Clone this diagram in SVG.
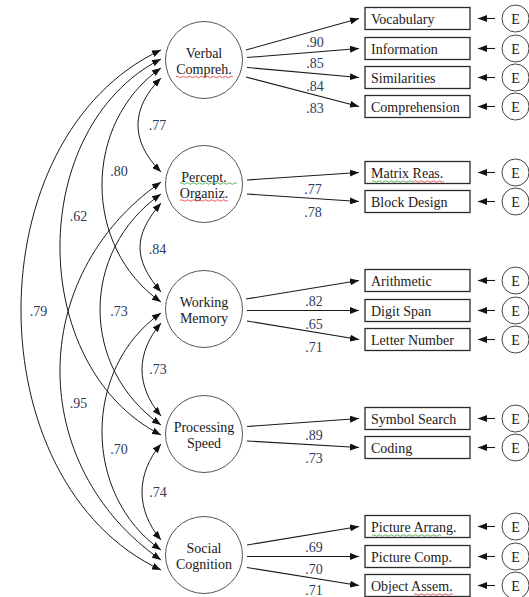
<svg xmlns="http://www.w3.org/2000/svg" width="529" height="597" viewBox="0 0 529 597">
<style>
.lat circle{fill:#fff;stroke:#555;stroke-width:1}
.lat text{font-family:"Liberation Serif","Times New Roman",serif;font-size:14px;text-anchor:middle;fill:#1a1a1a}
.box rect{fill:#fff;stroke:#2a2a2a;stroke-width:1.3}
.box text{font-family:"Liberation Serif","Times New Roman",serif;font-size:14px;fill:#221a1a}
.err circle{fill:#fff;stroke:#444;stroke-width:1}
.err text{font-family:"Liberation Serif","Times New Roman",serif;font-size:14px;text-anchor:middle;fill:#1a1a1a}
.lbl{font-family:"Liberation Serif","Times New Roman",serif;font-size:14px;text-anchor:middle;fill:#2e3a59}
.ld{stroke:#1a1a1a;stroke-width:1.1;fill:none;marker-end:url(#ah)}
.cor{stroke:#1a1a1a;stroke-width:1;fill:none;marker-start:url(#ah2);marker-end:url(#ah2)}
.red{stroke:#e03030;stroke-width:0.8;fill:none}
.grn{stroke:#30a030;stroke-width:0.8;fill:none}
</style>
<defs>
<marker id="ah" viewBox="0 0 9 7" refX="9" refY="3.5" markerWidth="9" markerHeight="7" markerUnits="userSpaceOnUse" orient="auto"><path d="M0,0 L9,3.5 L0,7 z" fill="#111"/></marker>
<marker id="ah2" viewBox="0 0 9 7" refX="9" refY="3.5" markerWidth="9" markerHeight="7" markerUnits="userSpaceOnUse" orient="auto-start-reverse"><path d="M0,0 L9,3.5 L0,7 z" fill="#111"/></marker>
</defs>

<g id="connectors">
<path class="ld" d="M246,50 L359,18.5"/>
<path class="ld" d="M247,57.5 L359,48.5"/>
<path class="ld" d="M247,67.5 L359,77.5"/>
<path class="ld" d="M246,77 L359,106.5"/>
<path class="ld" d="M247,180 L359,172.5"/>
<path class="ld" d="M247,194 L359,201.5"/>
<path class="ld" d="M246,299 L359,280.5"/>
<path class="ld" d="M247,310.5 L359,310.5"/>
<path class="ld" d="M247,321 L359,339.5"/>
<path class="ld" d="M247,426.5 L359,418.5"/>
<path class="ld" d="M247,441 L359,447.5"/>
<path class="ld" d="M247,545 L359,526.5"/>
<path class="ld" d="M247,556.5 L359,556.5"/>
<path class="ld" d="M247,567.5 L359,585.5"/>
<path class="ld" d="M495,18.5 L478,18.5"/>
<path class="ld" d="M495,48.5 L478,48.5"/>
<path class="ld" d="M495,77.5 L478,77.5"/>
<path class="ld" d="M495,106.5 L478,106.5"/>
<path class="ld" d="M495,172.5 L478,172.5"/>
<path class="ld" d="M495,201.5 L478,201.5"/>
<path class="ld" d="M495,280.5 L478,280.5"/>
<path class="ld" d="M495,310.5 L478,310.5"/>
<path class="ld" d="M495,339.5 L478,339.5"/>
<path class="ld" d="M495,418.5 L478,418.5"/>
<path class="ld" d="M495,447.5 L478,447.5"/>
<path class="ld" d="M495,526.5 L478,526.5"/>
<path class="ld" d="M495,556.5 L478,556.5"/>
<path class="ld" d="M495,585.5 L478,585.5"/>
<path class="cor" d="M161,78 C130.3,108.7 130.3,141.3 161,172"/>
<path class="cor" d="M161,203 C133,236 133,259 161,292"/>
<path class="cor" d="M161,323 C135.7,353 135.7,386 161,416"/>
<path class="cor" d="M161,444 C135.7,474 135.7,510 161,540"/>
<path class="cor" d="M161,68 C82.3,123 82.3,247 161,302"/>
<path class="cor" d="M161,194 C79.7,251 79.7,368 161,425"/>
<path class="cor" d="M161,313 C82.3,368 82.3,495 161,550"/>
<path class="cor" d="M161,59 C26.3,127.6 26.3,366.4 161,435"/>
<path class="cor" d="M161,182 C26.3,276 26.3,466 161,560"/>
<path class="cor" d="M161,50 C-25.7,137 -25.7,483 161,570"/>
</g>

<g id="loading-labels">
<text class="lbl" x="315" y="47">.90</text>
<text class="lbl" x="315" y="68">.85</text>
<text class="lbl" x="315" y="90.5">.84</text>
<text class="lbl" x="315" y="113">.83</text>
<text class="lbl" x="313" y="194">.77</text>
<text class="lbl" x="313" y="217">.78</text>
<text class="lbl" x="314" y="306">.82</text>
<text class="lbl" x="314" y="329">.65</text>
<text class="lbl" x="314" y="351.5">.71</text>
<text class="lbl" x="314" y="440">.89</text>
<text class="lbl" x="314" y="463">.73</text>
<text class="lbl" x="314" y="551.5">.69</text>
<text class="lbl" x="314" y="574">.70</text>
<text class="lbl" x="314" y="594.5">.71</text>
<text class="lbl" x="157.5" y="130">.77</text>
<text class="lbl" x="157.5" y="254">.84</text>
<text class="lbl" x="158" y="374">.73</text>
<text class="lbl" x="158" y="497">.74</text>
<text class="lbl" x="119" y="175.5">.80</text>
<text class="lbl" x="119" y="315.5">.73</text>
<text class="lbl" x="119" y="454">.70</text>
<text class="lbl" x="78.5" y="220.5">.62</text>
<text class="lbl" x="78.5" y="408">.95</text>
<text class="lbl" x="38.5" y="315.5">.79</text>
</g>

<g id="verbal" class="lat"><circle cx="204" cy="60" r="38.5"/><text x="204" y="57.5">Verbal</text><text x="204" y="74">Compreh.</text><path class="red" d="M176,77 q1.5,-1.5 3,0 t3,0 t3,0 t3,0 t3,0 t3,0 t3,0 t3,0 t3,0 t3,0 t3,0 t3,0 t3,0 t3,0 t3,0 t3,0 t3,0 t3,0 t3,0"/></g>
<g id="percept" class="lat"><circle cx="204" cy="184" r="38.5"/><text x="204" y="181.5">Percept.</text><text x="204" y="198">Organiz.</text><path class="grn" d="M180,183.5 q1.5,-1.5 3,0 t3,0 t3,0 t3,0 t3,0 t3,0 t3,0 t3,0 t3,0 t3,0 t3,0 t3,0 t3,0 t3,0 t3,0 t3,0 t3,0 t3,0 t3,0"/><path class="red" d="M180,200.5 q1.5,-1.5 3,0 t3,0 t3,0 t3,0 t3,0 t3,0 t3,0 t3,0 t3,0 t3,0 t3,0 t3,0 t3,0 t3,0 t3,0 t3,0"/></g>
<g id="working" class="lat"><circle cx="204" cy="309" r="38.5"/><text x="204" y="306.5">Working</text><text x="204" y="323">Memory</text></g>
<g id="processing" class="lat"><circle cx="204" cy="434" r="38.5"/><text x="204" y="431.5">Processing</text><text x="204" y="448">Speed</text></g>
<g id="social" class="lat"><circle cx="204" cy="555" r="38.5"/><text x="204" y="552.5">Social</text><text x="204" y="569">Cognition</text></g>

<g id="vocabulary" class="box"><rect x="365" y="7.5" width="105" height="22"/><text x="371" y="23.5">Vocabulary</text></g>
<g id="information" class="box"><rect x="365" y="37.5" width="105" height="22"/><text x="371" y="53.5">Information</text></g>
<g id="similarities" class="box"><rect x="365" y="66.5" width="105" height="22"/><text x="371" y="82.5">Similarities</text></g>
<g id="comprehension" class="box"><rect x="365" y="95.5" width="105" height="22"/><text x="371" y="111.5">Comprehension</text></g>
<g id="matrix" class="box"><rect x="365" y="161.5" width="105" height="22"/><text x="371" y="177.5">Matrix Reas.</text><path class="grn" d="M372,181.5 q1.5,-1.5 3,0 t3,0 t3,0 t3,0 t3,0 t3,0 t3,0 t3,0 t3,0 t3,0 t3,0 t3,0 t3,0 t3,0"/><path class="red" d="M414,181.5 q1.5,-1.5 3,0 t3,0 t3,0 t3,0 t3,0 t3,0 t3,0 t3,0 t3,0 t3,0"/></g>
<g id="block" class="box"><rect x="365" y="190.5" width="105" height="22"/><text x="371" y="206.5">Block Design</text></g>
<g id="arithmetic" class="box"><rect x="365" y="269.5" width="105" height="22"/><text x="371" y="285.5">Arithmetic</text></g>
<g id="digit" class="box"><rect x="365" y="299.5" width="105" height="22"/><text x="371" y="315.5">Digit Span</text></g>
<g id="letter" class="box"><rect x="365" y="328.5" width="105" height="22"/><text x="371" y="344.5">Letter Number</text></g>
<g id="symbol" class="box"><rect x="365" y="407.5" width="105" height="22"/><text x="371" y="423.5">Symbol Search</text></g>
<g id="coding" class="box"><rect x="365" y="436.5" width="105" height="22"/><text x="371" y="452.5">Coding</text></g>
<g id="parrang" class="box"><rect x="365" y="515.5" width="105" height="22"/><text x="371" y="531.5">Picture Arrang.</text><path class="grn" d="M372,535.5 q1.5,-1.5 3,0 t3,0 t3,0 t3,0 t3,0 t3,0 t3,0 t3,0 t3,0 t3,0 t3,0 t3,0 t3,0 t3,0 t3,0 t3,0 t3,0 t3,0 t3,0 t3,0 t3,0 t3,0 t3,0"/></g>
<g id="pcomp" class="box"><rect x="365" y="545.5" width="105" height="22"/><text x="371" y="561.5">Picture Comp.</text></g>
<g id="oassem" class="box"><rect x="365" y="574.5" width="105" height="22"/><text x="371" y="590.5">Object Assem.</text><path class="red" d="M414,594.5 q1.5,-1.5 3,0 t3,0 t3,0 t3,0 t3,0 t3,0 t3,0 t3,0 t3,0 t3,0 t3,0 t3,0 t3,0"/></g>

<g id="errors" class="err">
<g id="e1"><circle cx="515.5" cy="18.5" r="13.5"/><text x="515.5" y="23.5">E</text></g>
<g id="e2"><circle cx="515.5" cy="48.5" r="13.5"/><text x="515.5" y="53.5">E</text></g>
<g id="e3"><circle cx="515.5" cy="77.5" r="13.5"/><text x="515.5" y="82.5">E</text></g>
<g id="e4"><circle cx="515.5" cy="106.5" r="13.5"/><text x="515.5" y="111.5">E</text></g>
<g id="e5"><circle cx="515.5" cy="172.5" r="13.5"/><text x="515.5" y="177.5">E</text></g>
<g id="e6"><circle cx="515.5" cy="201.5" r="13.5"/><text x="515.5" y="206.5">E</text></g>
<g id="e7"><circle cx="515.5" cy="280.5" r="13.5"/><text x="515.5" y="285.5">E</text></g>
<g id="e8"><circle cx="515.5" cy="310.5" r="13.5"/><text x="515.5" y="315.5">E</text></g>
<g id="e9"><circle cx="515.5" cy="339.5" r="13.5"/><text x="515.5" y="344.5">E</text></g>
<g id="e10"><circle cx="515.5" cy="418.5" r="13.5"/><text x="515.5" y="423.5">E</text></g>
<g id="e11"><circle cx="515.5" cy="447.5" r="13.5"/><text x="515.5" y="452.5">E</text></g>
<g id="e12"><circle cx="515.5" cy="526.5" r="13.5"/><text x="515.5" y="531.5">E</text></g>
<g id="e13"><circle cx="515.5" cy="556.5" r="13.5"/><text x="515.5" y="561.5">E</text></g>
<g id="e14"><circle cx="515.5" cy="585.5" r="13.5"/><text x="515.5" y="590.5">E</text></g>
</g>
</svg>
